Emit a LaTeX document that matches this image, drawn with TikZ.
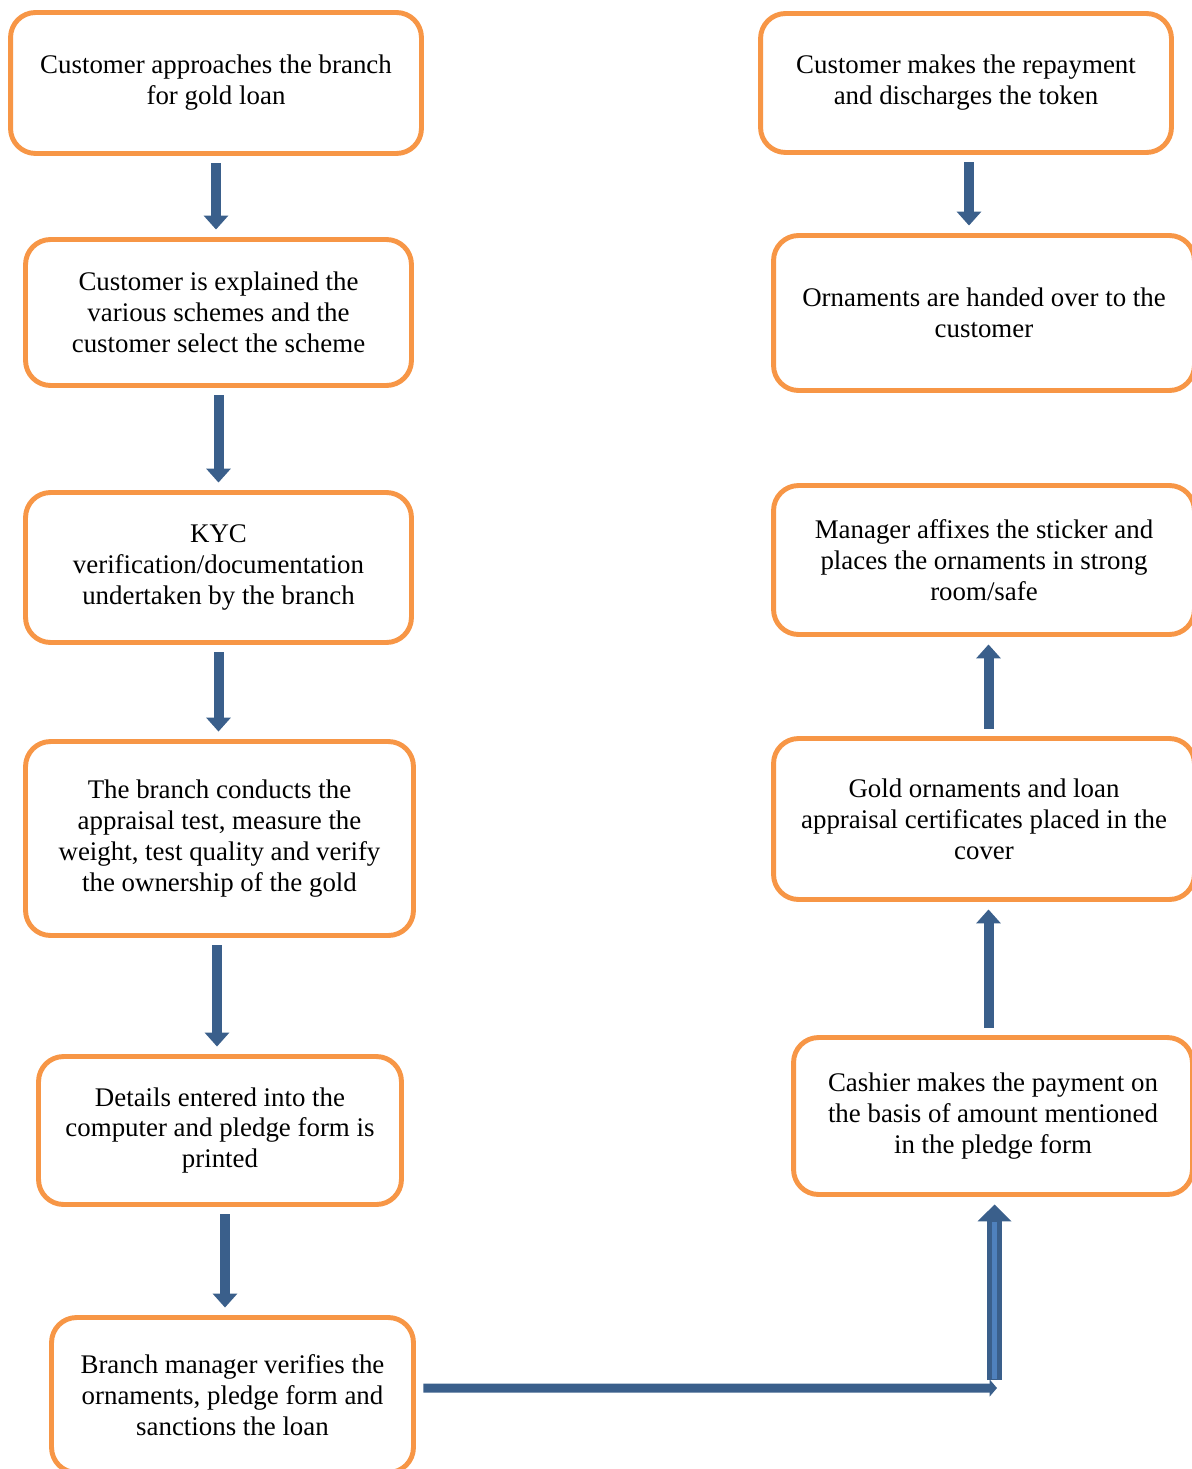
\documentclass[tikz,border=0pt]{standalone}
\usepackage{fontspec}
\setmainfont{Liberation Serif}
\usepackage{tikz}
\usetikzlibrary{arrows.meta}
\definecolor{boxorange}{HTML}{F79646}
\definecolor{arrowblue}{HTML}{3A5F8B}
\definecolor{shaftlight}{HTML}{4F81BD}

\tikzset{
	stage/.style={draw=boxorange, line width=2.8pt, rounded corners=0.5cm, fill=white,
		align=center, inner sep=0pt, font=\fontsize{15.3}{17.6}\selectfont},
	flow/.style={arrowblue, line width=0.2cm, shorten <=0.15cm, shorten >=0.15cm,
		-{Triangle[length=0.28cm,width=0.48cm]}},
}

\begin{document}
\begin{tikzpicture}[x=0.02cm, y=-0.02cm]
	%\draw [help lines] (0,0) grid (1192,1469);
	\useasboundingbox (0,0) rectangle (1192,1469);

	% left column, top to bottom
	\node [stage, minimum width=8.22cm, minimum height=2.82cm] (b1) at (216,83)
		{Customer approaches the branch\\for gold loan};
	\node [stage, minimum width=7.72cm, minimum height=2.92cm] (b2) at (218.5,312.5)
		{Customer is explained the\\various schemes and the\\customer select the scheme};
	\node [stage, minimum width=7.72cm, minimum height=3.0cm] (b3) at (218.5,567.5)
		{KYC\\verification/documentation\\undertaken by the branch};
	\node [stage, minimum width=7.76cm, minimum height=3.88cm] (b4) at (219.5,838.5)
		{The branch conducts the\\appraisal test, measure the\\weight, test quality and verify\\the ownership of the gold};
	\node [stage, minimum width=7.26cm, minimum height=2.96cm] (b5) at (220,1130.5)
		{Details entered into the\\computer and pledge form is\\printed};
	\node [stage, minimum width=7.24cm, minimum height=3.1cm] (b6) at (232.5,1395)
		{Branch manager verifies the\\ornaments, pledge form and\\sanctions the loan};

	% right column, top to bottom
	\node [stage, minimum width=8.22cm, minimum height=2.78cm] (r1) at (966,83)
		{Customer makes the repayment\\and discharges the token};
	\node [stage, minimum width=8.42cm, minimum height=3.1cm] (r2) at (984,313)
		{Ornaments are handed over to the\\customer};
	\node [stage, minimum width=8.42cm, minimum height=2.98cm] (r3) at (984,560)
		{Manager affixes the sticker and\\places the ornaments in strong\\room/safe};
	\node [stage, minimum width=8.42cm, minimum height=3.22cm] (r4) at (984,819)
		{Gold ornaments and loan\\appraisal certificates placed in the\\cover};
	\node [stage, minimum width=7.98cm, minimum height=3.14cm] (r5) at (993,1116)
		{Cashier makes the payment on\\the basis of amount mentioned\\in the pledge form};

	\draw [flow] (b1.south) -- (b1.south |- b2.north);
	\draw [flow] (b2.south) -- (b2.south |- b3.north);
	\draw [flow] (b3.south) -- (b3.south |- b4.north);
	\draw [flow] ([xshift=-0.05cm]b4.south) -- ([xshift=-0.05cm]b4.south |- b5.north);
	\draw [flow] ([xshift=0.1cm]b5.south) -- ([xshift=0.1cm]b5.south |- b6.north);

	\coordinate (turn) at (997,1388);
	\coordinate (rise) at (994.5,1380);
	\draw [arrowblue, line width=0.18cm, shorten <=0.15cm, -{Triangle[length=0.15cm,width=0.34cm]}]
		([yshift=0.14cm]b6.east) -- (turn);
	\draw [arrowblue, line width=0.3cm, shorten >=0.15cm, -{Triangle[length=0.34cm,width=0.66cm]}]
		(rise) -- (rise |- r5.south);
	\draw [shaftlight, line width=0.1cm] ([yshift=0.02cm]rise) -- ([yshift=-0.5cm]rise |- r5.south);

	\draw [flow] ([xshift=0.06cm]r1.south) -- ([xshift=0.06cm]r1.south |- r2.north);
	\draw [flow] ([xshift=0.09cm]r4.south |- r5.north) -- ([xshift=0.09cm]r4.south);
	\draw [flow] ([xshift=0.09cm]r3.south |- r4.north) -- ([xshift=0.09cm]r3.south);
\end{tikzpicture}
\end{document}
